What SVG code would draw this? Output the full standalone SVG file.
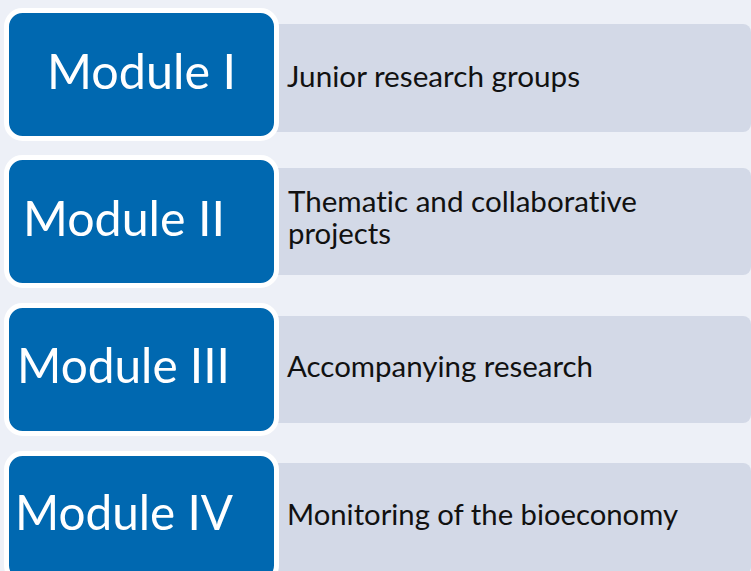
<svg xmlns="http://www.w3.org/2000/svg" width="751" height="571" viewBox="0 0 751 571">
<style>
.bg{fill:#edf0f7}
.gray{fill:#d3d9e7}
.blue{fill:#0068b0;stroke:#ffffff;stroke-width:5}
.mod{font-family:Lato,"Liberation Sans",sans-serif;font-size:49px;fill:#ffffff;font-variant-ligatures:none}
.desc{font-family:Lato,"Liberation Sans",sans-serif;font-size:29px;fill:#111111;font-variant-ligatures:none}
</style>
<rect class="bg" x="0" y="0" width="751" height="571"/>
<g id="module1">
<rect class="gray" x="250" y="24" width="501" height="108" rx="8"/>
<rect class="blue" x="6.5" y="10.5" width="270" height="128" rx="16"/>
<text class="mod" x="47" y="89" textLength="189" lengthAdjust="spacingAndGlyphs">Module I</text>
<text class="desc" x="287" y="87" textLength="293" lengthAdjust="spacingAndGlyphs">Junior research groups</text>
</g>
<g id="module2">
<rect class="gray" x="250" y="168" width="501" height="107" rx="8"/>
<rect class="blue" x="6.5" y="157.5" width="270" height="128" rx="16"/>
<text class="mod" x="23" y="236" textLength="202" lengthAdjust="spacingAndGlyphs">Module II</text>
<text class="desc" x="288" y="212" textLength="349" lengthAdjust="spacingAndGlyphs">Thematic and collaborative</text>
<text class="desc" x="288" y="244" textLength="103" lengthAdjust="spacingAndGlyphs">projects</text>
</g>
<g id="module3">
<rect class="gray" x="250" y="316" width="501" height="107" rx="8"/>
<rect class="blue" x="6.5" y="305.5" width="270" height="128" rx="16"/>
<text class="mod" x="17" y="383" textLength="213" lengthAdjust="spacingAndGlyphs">Module III</text>
<text class="desc" x="287" y="377" textLength="306" lengthAdjust="spacingAndGlyphs">Accompanying research</text>
</g>
<g id="module4">
<rect class="gray" x="250" y="463" width="501" height="112" rx="8"/>
<rect class="blue" x="6.5" y="453.5" width="270" height="128" rx="16"/>
<text class="mod" x="15" y="530" textLength="218" lengthAdjust="spacingAndGlyphs">Module IV</text>
<text class="desc" x="287" y="525" textLength="391" lengthAdjust="spacingAndGlyphs">Monitoring of the bioeconomy</text>
</g>
<g id="connectors"></g>
</svg>
